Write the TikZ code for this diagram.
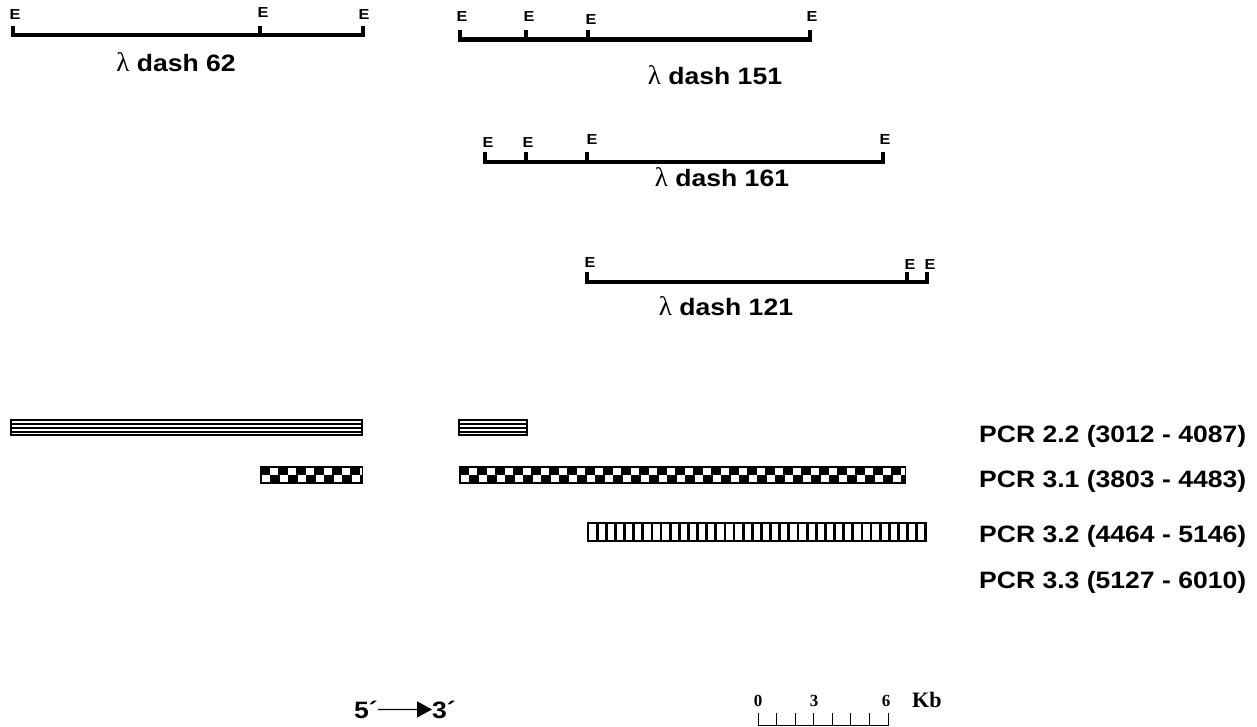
\documentclass[tikz,border=0pt]{standalone}
\usepackage{fontspec}
\usetikzlibrary{arrows.meta}
\newfontfamily\hv[FakeStretch=1.12]{Liberation Sans}
\newfontfamily\lam{Liberation Serif}
\newfontfamily\tms{Liberation Serif}
\newcommand\mylam{{\lam\mdseries\fontsize{27}{24}\selectfont λ}}
\newcommand\mycheckbar[3]{%
  \begin{scope}
    \clip (#1,#3) rectangle (#2,#3+17);
    \fill[black] (#1,#3) rectangle (#2,#3+17);
    \foreach \k in {0,...,30} {
      \fill[white] ({#1+10+18*\k},#3+1.5) rectangle ++(8,7);
      \fill[white] ({#1+2+18*\k},#3+8.5) rectangle ++(8,7.5);
    }
  \end{scope}
  \draw[line width=1pt] (#1,#3) rectangle (#2,#3+17);}
\newcommand\myhbar[3]{%
  \fill[white] (#1,#3) rectangle (#2,#3+17);
  \foreach \d in {1,5,9,13,16} {
    \draw[line width=2pt] (#1,#3+\d) -- (#2,#3+\d);
  }
  \draw[line width=2pt] (#1,#3) -- (#1,#3+17) (#2,#3) -- (#2,#3+17);}
\begin{document}
\begin{tikzpicture}[x=1pt,y=-1pt,
  map/.style={line width=4.4pt},
  lab/.style={font=\hv\bfseries\fontsize{23.7}{24}\selectfont, inner sep=0pt},
  elab/.style={font=\hv\bfseries\fontsize{14.5}{15}\selectfont, inner sep=0pt},
  sclab/.style={font=\tms\bfseries\fontsize{17}{17}\selectfont, inner sep=0pt, anchor=base},
  scbar/.style={line width=1pt}]
\useasboundingbox (0,0) rectangle (1257,727);

% lambda dash 62
\draw[map] (13,35) -- (363,35);
\foreach \x in {13,260,363} { \draw[map] (\x,26) -- (\x,37.2); }
\node[elab] (e621) at (15,15) {E};
\node[elab] (e622) at (263,12.5) {E};
\node[elab] (e623) at (364,15) {E};
\node[lab, anchor=base] (l62) at (176,72) {\mylam\ dash 62};

% lambda dash 151
\draw[map] (460,39.5) -- (810,39.5);
\foreach \x in {460,526,588,810} { \draw[map] (\x,30) -- (\x,41.7); }
\node[elab] (e1511) at (462,17) {E};
\node[elab] (e1512) at (529,17) {E};
\node[elab] (e1513) at (591,20) {E};
\node[elab] (e1514) at (812,17) {E};
\node[lab, anchor=base] (l151) at (715,85) {\mylam\ dash 151};

% lambda dash 161
\draw[map] (485,162) -- (883,162);
\foreach \x in {485,526,587,883} { \draw[map] (\x,152) -- (\x,164.2); }
\node[elab] (e1611) at (488,143) {E};
\node[elab] (e1612) at (528,143) {E};
\node[elab] (e1613) at (592,140) {E};
\node[elab] (e1614) at (885,140) {E};
\node[lab, anchor=base] (l161) at (722,187) {\mylam\ dash 161};

% lambda dash 121
\draw[map] (587,282) -- (927,282);
\foreach \x in {587,907,927} { \draw[map] (\x,272) -- (\x,284.2); }
\node[elab] (e1211) at (590,263) {E};
\node[elab] (e1212) at (910,265) {E};
\node[elab] (e1213) at (930,265) {E};
\node[lab, anchor=base] (l121) at (726,315) {\mylam\ dash 121};

% PCR bars
\myhbar{11}{362}{419}
\myhbar{459}{527}{419}
\mycheckbar{260}{362}{466}
\mycheckbar{459}{905}{466}
\fill[white] (588,523) rectangle (926,541);
\foreach \k in {0,...,37} { \draw[line width=2.8pt] ({588+9.13*\k},523) -- ({588+9.13*\k},541); }
\draw[line width=2pt] (588,523) rectangle (926,541);

% PCR labels
\node[lab, anchor=base west] (p22) at (979,442) {PCR 2.2 (3012 - 4087)};
\node[lab, anchor=base west] (p31) at (979,487) {PCR 3.1 (3803 - 4483)};
\node[lab, anchor=base west] (p32) at (979,542) {PCR 3.2 (4464 - 5146)};
\node[lab, anchor=base west] (p33) at (979,588) {PCR 3.3 (5127 - 6010)};

% 5' -> 3'
\node[lab, anchor=base east] (five) at (378,718) {5´};
\node[lab, anchor=base west] (three) at (432,718) {3´};
\draw[line width=1.3pt, -{Triangle[length=15pt,width=16pt]}] (five.east) -- (three.west);

% scale bar
\draw[scbar] (758,713) -- (758,725.5) -- (888,725.5) -- (888,713);
\foreach \k in {1,...,6} { \draw[scbar] ({758+18.57*\k},713) -- ({758+18.57*\k},725.5); }
\node[sclab] (s0) at (758,706) {0};
\node[sclab] (s3) at (814,706) {3};
\node[sclab] (s6) at (886,706) {6};
\node[font=\tms\bfseries\fontsize{22}{22}\selectfont, inner sep=0pt, anchor=base west] (kb) at (912,707) {Kb};
\end{tikzpicture}
\end{document}
